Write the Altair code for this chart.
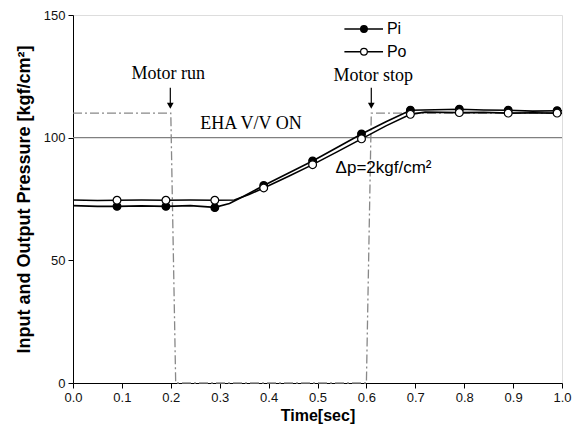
import altair as alt
import pandas as pd

# marker samples
mark_t = [0.09, 0.19, 0.29, 0.39, 0.49, 0.59, 0.69, 0.79, 0.89, 0.99]
pi_mark = [72.0, 72.0, 71.5, 80.5, 90.5, 101.5, 111.2, 111.6, 111.2, 111.0]
po_mark = [74.5, 74.5, 74.5, 79.5, 89.0, 99.5, 109.5, 110.2, 110.0, 110.0]

# line traces
pi_t = [0.0, 0.05, 0.09, 0.14, 0.19, 0.24, 0.29, 0.32, 0.35, 0.39, 0.44, 0.49, 0.54, 0.59, 0.64, 0.69, 0.74, 0.79, 0.84, 0.89, 0.94, 0.99, 1.0]
pi_v = [72.3, 72.0, 72.0, 72.2, 72.0, 72.3, 71.6, 73.2, 76.2, 80.5, 85.5, 90.5, 96.0, 101.5, 106.5, 111.2, 111.4, 111.6, 111.3, 111.2, 110.8, 111.0, 111.0]
po_t = [0.0, 0.05, 0.09, 0.14, 0.19, 0.24, 0.29, 0.33, 0.36, 0.39, 0.44, 0.49, 0.54, 0.59, 0.64, 0.69, 0.72, 0.79, 0.84, 0.89, 0.94, 0.99, 1.0]
po_v = [74.6, 74.4, 74.5, 74.6, 74.5, 74.6, 74.5, 74.6, 76.8, 79.5, 84.2, 89.0, 94.2, 99.5, 104.8, 109.5, 110.4, 110.2, 110.3, 110.0, 110.1, 110.0, 110.0]

# motor command signal
motor_t = [0.0, 0.20, 0.21, 0.60, 0.61, 1.0]
motor_v = [110, 110, 0, 0, 110, 110]

# annotations (placed in data coordinates)
ann_serif_text = ["Motor run", "Motor stop", "EHA V/V ON"]
ann_serif_t = [0.195, 0.614, 0.364]
ann_serif_p = [126.0, 125.0, 105.6]
dp_text = ["\u0394p=2kgf/cm\u00b2"]
dp_t = [0.537]
dp_p = [87.6]
arrow_t = [0.199, 0.61]
arrow_top = [120.3, 120.3]
arrow_bot = [113.0, 113.0]
arrow_tip = [113.0, 113.0]

# legend entries (placed in data coordinates)
leg_names = ["Pi", "Po"]
leg_fill = ["black", "white"]
leg_p = [144.3, 135.0]
leg_t0 = 0.555
leg_t1 = 0.634
leg_tc = 0.595
leg_tt = 0.642

lines_df = pd.DataFrame(
    {"t": pi_t + po_t, "p": pi_v + po_v, "s": ["Pi"] * len(pi_t) + ["Po"] * len(po_t)}
)
marks_df = pd.DataFrame(
    {"t": mark_t * 2, "p": pi_mark + po_mark, "s": ["Pi"] * len(mark_t) + ["Po"] * len(mark_t)}
)
motor_df = pd.DataFrame({"t": motor_t, "p": motor_v})
serif_df = pd.DataFrame({"t": ann_serif_t, "p": ann_serif_p, "label": ann_serif_text})
dp_df = pd.DataFrame({"t": dp_t, "p": dp_p, "label": dp_text})
arrow_df = pd.DataFrame({"t": arrow_t, "top": arrow_top, "bot": arrow_bot, "tip": arrow_tip})
ref_df = pd.DataFrame({"p": [100]})
leg_df = pd.DataFrame(
    {
        "s": leg_names,
        "p": leg_p,
        "t0": [leg_t0] * 2,
        "t1": [leg_t1] * 2,
        "tc": [leg_tc] * 2,
        "tt": [leg_tt] * 2,
    }
)

xs = alt.Scale(domain=[0, 1], nice=False, zero=False)
ys = alt.Scale(domain=[0, 150], nice=False)
fill_scale = alt.Scale(domain=leg_names, range=leg_fill)

x_ticks = [round(i * 0.05, 2) for i in range(21)]

x_axis = alt.Axis(
    title="Time[sec]",
    values=x_ticks,
    labelExpr="round(datum.value*100) % 10 == 0 ? format(datum.value, '.1f') : ''",
    titleFontSize=16,
    titleFontWeight="bold",
    titleFont="Liberation Sans",
    labelFont="Liberation Sans",
    labelFontSize=13,
    labelColor="#111",
    titleColor="#000",
    tickSize=5,
    tickColor="#000",
    domainColor="#000",
    titlePadding=3,
    labelPadding=3,
    grid=False,
    labelFlush=False,
)
y_axis = alt.Axis(
    title="Input and Output Pressure [kgf/cm\u00b2]",
    values=[0, 50, 100, 150],
    titleFontSize=18,
    titleFontWeight="bold",
    titleFont="Liberation Sans",
    labelFont="Liberation Sans",
    labelFontSize=13,
    labelColor="#111",
    titleColor="#000",
    tickSize=5,
    tickColor="#000",
    domainColor="#000",
    titlePadding=10,
    labelPadding=3,
    grid=False,
)

ref = alt.Chart(ref_df).mark_rule(color="#808080", strokeWidth=1.2).encode(
    y=alt.Y("p:Q", scale=ys)
)

motor = alt.Chart(motor_df).mark_line(
    color="#888888", strokeWidth=1.3, strokeDash=[9, 3, 2, 3]
).encode(x=alt.X("t:Q", scale=xs, axis=x_axis), y=alt.Y("p:Q", scale=ys, axis=y_axis))

lines = alt.Chart(lines_df).mark_line(color="black", strokeWidth=1.6).encode(
    x=alt.X("t:Q", scale=xs),
    y=alt.Y("p:Q", scale=ys),
    detail="s:N",
)

points = alt.Chart(marks_df).mark_point(
    filled=False, shape="circle", size=60, stroke="black", strokeWidth=1.2, opacity=1
).encode(
    x=alt.X("t:Q", scale=xs),
    y=alt.Y("p:Q", scale=ys),
    fill=alt.Fill("s:N", scale=fill_scale, legend=None),
)

leg_line = alt.Chart(leg_df).mark_rule(color="black", strokeWidth=1.5).encode(
    x=alt.X("t0:Q", scale=xs), x2="t1:Q", y=alt.Y("p:Q", scale=ys)
)
leg_pt = alt.Chart(leg_df).mark_point(
    filled=False, shape="circle", size=45, stroke="black", strokeWidth=1.2, opacity=1
).encode(
    x=alt.X("tc:Q", scale=xs),
    y=alt.Y("p:Q", scale=ys),
    fill=alt.Fill("s:N", scale=fill_scale, legend=None),
)
leg_txt = alt.Chart(leg_df).mark_text(
    font="Liberation Sans", fontSize=16, color="black", align="left", baseline="middle"
).encode(x=alt.X("tt:Q", scale=xs), y=alt.Y("p:Q", scale=ys), text="s:N")

serif_text = alt.Chart(serif_df).mark_text(
    font="Liberation Serif", fontSize=18, color="black", align="center", baseline="middle"
).encode(x=alt.X("t:Q", scale=xs), y=alt.Y("p:Q", scale=ys), text="label:N")

dp = alt.Chart(dp_df).mark_text(
    font="Liberation Sans", fontSize=17, color="black", align="left", baseline="middle"
).encode(x=alt.X("t:Q", scale=xs), y=alt.Y("p:Q", scale=ys), text="label:N")

shaft = alt.Chart(arrow_df).mark_rule(color="black", strokeWidth=1.2).encode(
    x=alt.X("t:Q", scale=xs), y=alt.Y("top:Q", scale=ys), y2="bot:Q"
)
head = alt.Chart(arrow_df).mark_point(
    shape="triangle-down", filled=True, color="black", size=45, opacity=1
).encode(x=alt.X("t:Q", scale=xs), y=alt.Y("tip:Q", scale=ys))

chart = (
    alt.layer(ref, motor, lines, points, leg_line, leg_pt, leg_txt, serif_text, dp, shaft, head)
    .properties(
        width=489,
        height=368,
        padding={"left": 65, "top": 7, "right": 12, "bottom": 41},
        autosize=alt.AutoSizeParams(type="none"),
    )
    .configure_view(stroke="#333", strokeWidth=1)
    .configure(background="white")
)

chart.save("out.html", embed_options={"renderer": "svg", "actions": False})
